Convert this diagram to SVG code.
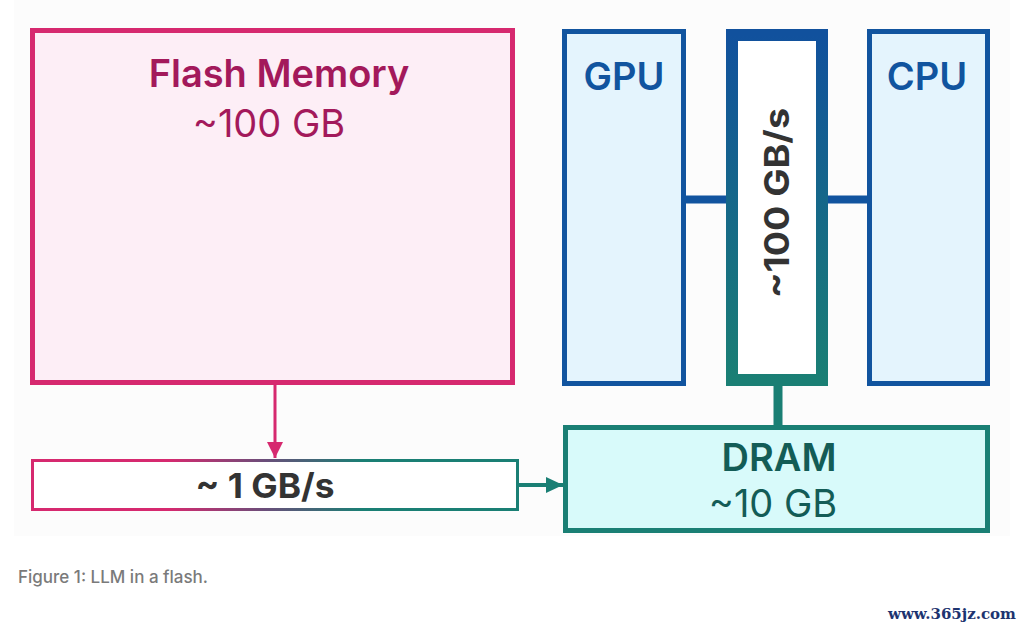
<svg xmlns="http://www.w3.org/2000/svg" width="1024" height="630" viewBox="0 0 1024 630">
  <defs>
    <linearGradient id="busGrad" x1="0" y1="0" x2="0" y2="1">
      <stop offset="0" stop-color="#11519d"/>
      <stop offset="1" stop-color="#1a7f74"/>
    </linearGradient>
    <linearGradient id="linkGrad" x1="0" y1="0" x2="1" y2="0">
      <stop offset="0.28" stop-color="#d6296f"/>
      <stop offset="0.48" stop-color="#6a4e7a"/>
      <stop offset="0.68" stop-color="#1a7f74"/>
    </linearGradient>
    <marker id="arrPink" viewBox="0 0 16 16" refX="16" refY="8" markerWidth="16" markerHeight="16" markerUnits="userSpaceOnUse" orient="auto">
      <path d="M0,0 L16,8 L0,16 Z" fill="#d6296f"/>
    </marker>
    <marker id="arrTeal" viewBox="0 0 17 16" refX="17" refY="8" markerWidth="17" markerHeight="16" markerUnits="userSpaceOnUse" orient="auto">
      <path d="M0,0 L17,8 L0,16 Z" fill="#1a7f74"/>
    </marker>
  </defs>
  <style>
    text { font-family: "Inter", "Liberation Sans", sans-serif; text-anchor: middle; }
    .title { font-size: 38px; font-weight: 600; }
    .sub { font-size: 38px; font-weight: 400; }
    .bw { font-size: 34px; font-weight: 700; fill: #333333; }
  </style>
  <rect x="0" y="0" width="1024" height="630" fill="#ffffff"/>
  <rect x="14" y="0" width="996" height="536" fill="#fcfcfc"/>

  <g id="connectors">
    <line x1="686" y1="199.5" x2="727" y2="199.5" stroke="#11549f" stroke-width="8"/>
    <line x1="827" y1="199.5" x2="867" y2="199.5" stroke="#11549f" stroke-width="8"/>
    <line x1="778" y1="385" x2="778" y2="426" stroke="#1a7f74" stroke-width="9"/>
    <line x1="275" y1="384" x2="275" y2="458" stroke="#d6296f" stroke-width="3" marker-end="url(#arrPink)"/>
    <line x1="518" y1="485" x2="563" y2="485" stroke="#1a7f74" stroke-width="4" marker-end="url(#arrTeal)"/>
  </g>

  <g id="flash">
    <rect x="32.5" y="30.5" width="480" height="352" fill="#fdeef6" stroke="#d6296f" stroke-width="5"/>
    <text class="title" x="279" y="87" fill="#a3195b">Flash Memory</text>
    <text class="sub" x="269" y="137" fill="#a3195b">~100 GB</text>
  </g>

  <g id="gpu">
    <rect x="564.5" y="31.5" width="119" height="352" fill="#e4f4fd" stroke="#11549f" stroke-width="5"/>
    <text class="title" x="624" y="90" fill="#11549f">GPU</text>
  </g>

  <g id="bus">
    <rect x="732" y="35" width="90" height="345" fill="#ffffff" stroke="url(#busGrad)" stroke-width="12"/>
    <text class="bw" transform="translate(789,203) rotate(-90)" textLength="190" lengthAdjust="spacingAndGlyphs">~100 GB/s</text>
  </g>

  <g id="cpu">
    <rect x="869.5" y="31.5" width="118" height="352" fill="#e4f4fd" stroke="#11549f" stroke-width="5"/>
    <text class="title" x="927" y="90" fill="#11549f">CPU</text>
  </g>

  <g id="link">
    <rect x="32.5" y="460.5" width="485" height="49" fill="#ffffff" stroke="url(#linkGrad)" stroke-width="3"/>
    <text class="bw" x="265" y="498" textLength="139" lengthAdjust="spacingAndGlyphs">~ 1 GB/s</text>
  </g>

  <g id="dram">
    <rect x="565.5" y="427.5" width="422" height="103" fill="#d8fafa" stroke="#1a7f74" stroke-width="5"/>
    <text class="title" x="779" y="471" fill="#135c56">DRAM</text>
    <text class="sub" x="773" y="517" fill="#135c56">~10 GB</text>
  </g>

  <text x="18" y="583" style="text-anchor:start; font-size:17px; font-weight:500;" fill="#7a7a7a">Figure 1: LLM in a flash.</text>
  <text x="1016" y="619" style="text-anchor:end; font-family:'DejaVu Serif','Liberation Serif',serif; font-size:15px; font-weight:700;" fill="#1d3470">www.365jz.com</text>
</svg>
